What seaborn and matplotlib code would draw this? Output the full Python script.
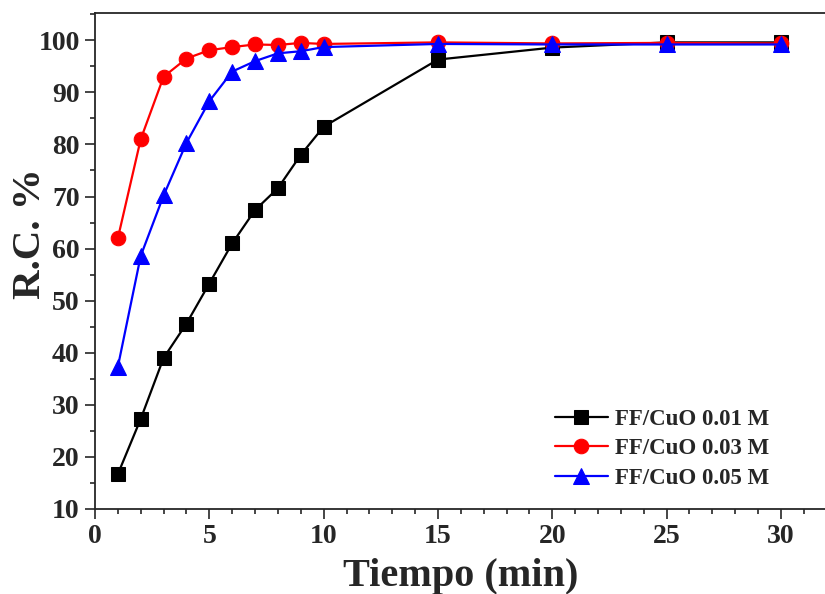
import numpy as np
import pandas as pd
import matplotlib
matplotlib.use("Agg")
import matplotlib.pyplot as plt
import seaborn as sns
from matplotlib.ticker import MultipleLocator

tiempo = [1, 2, 3, 4, 5, 6, 7, 8, 9, 10, 15, 20, 25, 30]
rc_001 = [16.7, 27.3, 39.0, 45.6, 53.3, 61.0, 67.4, 71.6, 78.0, 83.4, 96.3, 98.6, 99.6, 99.6]
rc_003 = [62.0, 81.0, 93.0, 96.5, 98.1, 98.7, 99.2, 99.1, 99.5, 99.3, 99.6, 99.4, 99.5, 99.4]
rc_005 = [37.3, 58.6, 70.2, 80.3, 88.3, 94.0, 96.0, 97.5, 97.9, 98.7, 99.3, 99.2, 99.2, 99.2]
series = ["FF/CuO 0.01 M", "FF/CuO 0.03 M", "FF/CuO 0.05 M"]
colors = ["#000000", "#ff0000", "#0000ff"]
markers = ["s", "o", "^"]

sns.set_style("ticks")
plt.rcParams["font.family"] = ["Liberation Serif", "DejaVu Serif"]
plt.rcParams["font.weight"] = "bold"

df = pd.DataFrame({
    "Tiempo": tiempo * 3,
    "RC": rc_001 + rc_003 + rc_005,
    "Serie": [series[0]] * len(tiempo) + [series[1]] * len(tiempo) + [series[2]] * len(tiempo),
})

fig = plt.figure(figsize=(8.25, 5.94), dpi=100)
ax_w = 1 - 95 / 825 + 0.002
ax_h = (509 - 12.7) / 594
ax = fig.add_axes([95 / 825, 1 - 509 / 594, ax_w, ax_h])

msizes = {"s": 9.5, "o": 10.5, "^": 11}
for s, c, m in zip(series, colors, markers):
    sns.lineplot(data=df[df["Serie"] == s], x="Tiempo", y="RC", color=c, marker=m,
                 markersize=msizes[m], markeredgecolor=c, linewidth=1.6, label=s, ax=ax)

ax.set_xlim(0, 32)
ax.set_ylim(10, 105.3)
ax.xaxis.set_major_locator(MultipleLocator(5))
ax.xaxis.set_minor_locator(MultipleLocator(1))
ax.yaxis.set_major_locator(MultipleLocator(10))
ax.yaxis.set_minor_locator(MultipleLocator(5))
ax.tick_params(which="major", direction="out", length=7, width=1.2, labelsize=20, pad=4)
ax.tick_params(which="minor", direction="out", length=3.6, width=1.2)
for lab in ax.get_xticklabels() + ax.get_yticklabels():
    lab.set_fontweight("bold")
for sp in ["left", "bottom", "top"]:
    ax.spines[sp].set_linewidth(1.3)
ax.spines["right"].set_visible(False)

ax.set_xlabel("Tiempo (min)", fontsize=29, fontweight="bold", labelpad=6)
ax.set_ylabel("R.C. %", fontsize=29.5, fontweight="bold")
ax.yaxis.label.set_verticalalignment("center")
ax.yaxis.set_label_coords((31 - 95) / (ax_w * 825), (509 - 233.5) / (ax_h * 594))

ax.legend(loc="upper left", bbox_to_anchor=(555 / 825, 1 - 409 / 594), bbox_transform=fig.transFigure,
          frameon=False, borderpad=0, borderaxespad=0, handlelength=2.3, handletextpad=0.3,
          labelspacing=0.36, prop={"family": "Liberation Serif", "weight": "bold", "size": 16.5})

fig.savefig("out.png", dpi=100)
